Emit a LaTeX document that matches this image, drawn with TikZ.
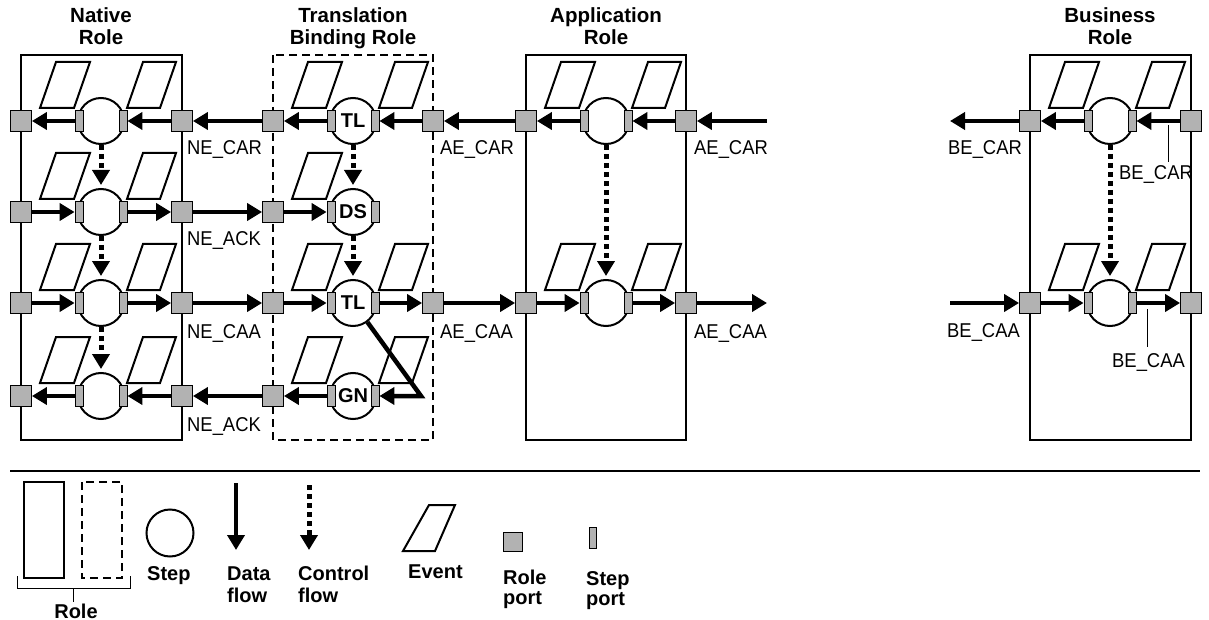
\documentclass[tikz,border=0pt]{standalone}
\usepackage{fontspec}
\setmainfont{Liberation Sans}
\newfontfamily\lblfont[FakeStretch=0.92]{Liberation Sans}
\usetikzlibrary{arrows.meta}
\tikzset{
  rolebox/.style={draw, line width=2.2pt},
  tbrbox/.style={draw, line width=2.2pt, dash pattern=on 8pt off 5pt},
  rport/.style={rectangle, draw, fill=black!30, line width=0.8pt, minimum size=21pt, inner sep=0pt},
  sport/.style={rectangle, draw, fill=black!30, line width=0.8pt, minimum width=8pt, minimum height=21pt, inner sep=0pt},
  stepc/.style={circle, draw, fill=white, line width=2pt, minimum size=46pt, inner sep=0pt, font=\fontsize{20}{22}\selectfont\bfseries},
  evt/.style={draw, fill=white, line width=2pt, line join=miter},
  data/.style={line width=4.5pt, -{Triangle[length=15pt,width=17pt]}},
  ctrl/.style={line width=5pt, dash pattern=on 5pt off 4pt, -{Triangle[length=15pt,width=17pt]}},
  lbl/.style={inner sep=0pt, anchor=base west, font=\lblfont\fontsize{20}{22}\selectfont},
  ttl/.style={inner sep=0pt, anchor=base, font=\fontsize{20.5}{22}\selectfont\bfseries},
  leg/.style={inner sep=0pt, anchor=base west, font=\fontsize{20}{22}\selectfont\bfseries},
  thin/.style={line width=1pt}
}
\newcommand\mystep[4]{%
  \node[stepc] (#1) at (#2,#3) {#4};
  \node[sport] (#1-l) at ({#2-22},#3) {};
  \node[sport] (#1-r) at ({#2+22},#3) {};
}
\newcommand\evl[2]{\draw[evt] ({#1-61},{#2-13}) -- ({#1-27},{#2-13}) -- ({#1-11},{#2-59}) -- ({#1-45},{#2-59}) -- cycle;}
\newcommand\evr[2]{\draw[evt] ({#1+26},{#2-13}) -- ({#1+59},{#2-13}) -- ({#1+75},{#2-59}) -- ({#1+42},{#2-59}) -- cycle;}
\begin{document}
\begin{tikzpicture}[x=1pt, y=-1pt]
\useasboundingbox (0,0) rectangle (1209,620);
% titles
\node[ttl] (tn1) at (101,23) {Native};
\node[ttl] (tn2) at (101,45) {Role};
\node[ttl] (tt1) at (353,23) {Translation};
\node[ttl] (tt2) at (353,45) {Binding Role};
\node[ttl] (ta1) at (606,23) {Application};
\node[ttl] (ta2) at (606,45) {Role};
\node[ttl] (tb1) at (1110,23) {Business};
\node[ttl] (tb2) at (1110,45) {Role};
% role boxes
\draw[rolebox] (21,55) rectangle (182,440);
\draw[tbrbox] (273,55) rectangle (433,440);
\draw[rolebox] (526,55) rectangle (686,440);
\draw[rolebox] (1030,55) rectangle (1191,440);
% events
\evl{101}{121}\evr{101}{121}
\evl{101}{212}\evr{101}{212}
\evl{101}{303}\evr{101}{303}
\evl{101}{396}\evr{101}{396}
\evl{353}{121}\evr{353}{121}
\evl{353}{212}
\evl{353}{303}\evr{353}{303}
\evl{353}{396}\evr{353}{396}
\evl{606}{121}\evr{606}{121}
\evl{606}{303}\evr{606}{303}
\evl{1110}{121}\evr{1110}{121}
\evl{1110}{303}\evr{1110}{303}
% steps
\mystep{N1}{101}{121}{}
\mystep{N2}{101}{212}{}
\mystep{N3}{101}{303}{}
\mystep{N4}{101}{396}{}
\mystep{T1}{353}{121}{TL}
\mystep{T2}{353}{212}{DS}
\mystep{T3}{353}{303}{TL}
\mystep{T4}{353}{396}{GN}
\mystep{A1}{606}{121}{}
\mystep{A3}{606}{303}{}
\mystep{B1}{1110}{121}{}
\mystep{B3}{1110}{303}{}
% role ports
\foreach \r/\y in {1/121,2/212,3/303,4/396}{
  \node[rport] (nL\r) at (21,\y) {};
  \node[rport] (nR\r) at (182,\y) {};
  \node[rport] (tL\r) at (273,\y) {};
}
\node[rport] (tR1) at (433,121) {};
\node[rport] (tR3) at (433,303) {};
\node[rport] (aL1) at (526,121) {};
\node[rport] (aR1) at (686,121) {};
\node[rport] (aL3) at (526,303) {};
\node[rport] (aR3) at (686,303) {};
\node[rport] (bL1) at (1030,121) {};
\node[rport] (bR1) at (1191,121) {};
\node[rport] (bL3) at (1030,303) {};
\node[rport] (bR3) at (1191,303) {};
\coordinate (aF1) at (767,121);
\coordinate (aF3) at (767,303);
\coordinate (bF1) at (950,121);
\coordinate (bF3) at (950,303);
\coordinate (gnc) at (421,396);
% native data flows
\draw[data] (N1-l.west) -- (nL1.east);
\draw[data] (nR1.west) -- (N1-r.east);
\draw[data] (tL1.west) -- (nR1.east);
\draw[data] (nL2.east) -- (N2-l.west);
\draw[data] (N2-r.east) -- (nR2.west);
\draw[data] (nR2.east) -- (tL2.west);
\draw[data] (nL3.east) -- (N3-l.west);
\draw[data] (N3-r.east) -- (nR3.west);
\draw[data] (nR3.east) -- (tL3.west);
\draw[data] (N4-l.west) -- (nL4.east);
\draw[data] (nR4.west) -- (N4-r.east);
\draw[data] (tL4.west) -- (nR4.east);
% translation binding data flows
\draw[data] (T1-l.west) -- (tL1.east);
\draw[data] (tR1.west) -- (T1-r.east);
\draw[data] (aL1.west) -- (tR1.east);
\draw[data] (tL2.east) -- (T2-l.west);
\draw[data] (tL3.east) -- (T3-l.west);
\draw[data] (T3-r.east) -- (tR3.west);
\draw[data] (tR3.east) -- (aL3.west);
\draw[data] (T4-l.west) -- (tL4.east);
\draw[data, line join=miter] (T3.-53) -- (gnc) -- (T4-r.east);
% application data flows
\draw[data] (aF1) -- (aR1.east);
\draw[data] (aR1.west) -- (A1-r.east);
\draw[data] (A1-l.west) -- (aL1.east);
\draw[data] (aL3.east) -- (A3-l.west);
\draw[data] (A3-r.east) -- (aR3.west);
\draw[data] (aR3.east) -- (aF3);
% business data flows
\draw[data] (bR1.west) -- (B1-r.east);
\draw[data] (B1-l.west) -- (bL1.east);
\draw[data] (bL1.west) -- (bF1);
\draw[data] (bF3) -- (bL3.west);
\draw[data] (bL3.east) -- (B3-l.west);
\draw[data] (B3-r.east) -- (bR3.west);
% control flows
\draw[ctrl, shorten >=3pt] (N1.south) -- (N2.north);
\draw[ctrl, shorten >=3pt] (N2.south) -- (N3.north);
\draw[ctrl, shorten >=3pt] (N3.south) -- (N4.north);
\draw[ctrl, shorten >=3pt] (T1.south) -- (T2.north);
\draw[ctrl, shorten >=3pt] (T2.south) -- (T3.north);
\draw[ctrl, shorten >=3pt] (A1.south) -- (A3.north);
\draw[ctrl, shorten >=3pt] (B1.south) -- (B3.north);
% labels
\node[lbl] (l1) at (187,155) {NE\_CAR};
\node[lbl] (l2) at (187,246) {NE\_ACK};
\node[lbl] (l3) at (187,338) {NE\_CAA};
\node[lbl] (l4) at (187,431) {NE\_ACK};
\node[lbl] (l5) at (440,155) {AE\_CAR};
\node[lbl] (l6) at (440,338) {AE\_CAA};
\node[lbl] (l7) at (694,155) {AE\_CAR};
\node[lbl] (l8) at (694,338) {AE\_CAA};
\node[lbl] (l9) at (948,155) {BE\_CAR};
\node[lbl] (l10) at (1119,180) {BE\_CAR};
\node[lbl] (l11) at (947,337) {BE\_CAA};
\node[lbl] (l12) at (1112,367) {BE\_CAA};
\coordinate (k1a) at (1168,125); \coordinate (k1b) at (1168,162);
\coordinate (k2a) at (1147,309); \coordinate (k2b) at (1147,347);
\draw[thin] (k1a) -- (k1b);
\draw[thin] (k2a) -- (k2b);
% separator
\coordinate (sepL) at (10,471); \coordinate (sepR) at (1200,471);
\draw[line width=1.5pt] (sepL) -- (sepR);
% legend
\draw[rolebox] (24,482) rectangle (64,578);
\draw[tbrbox] (82,482) rectangle (122,578);
\draw[thin] (17,576) -- (17,588) -- (130,588) -- (130,576);
\draw[thin] (73,588) -- (73,602);
\node[leg, anchor=base] (lgrole) at (76,618) {Role};
\node[draw, circle, line width=2pt, minimum size=47pt, inner sep=0pt] (lgstep) at (170,533) {};
\node[leg] (lgsteplbl) at (147,580) {Step};
\coordinate (lgd1) at (236,483); \coordinate (lgd2) at (236,550);
\draw[data] (lgd1) -- (lgd2);
\node[leg] (lgdata1) at (227,580) {Data};
\node[leg] (lgdata2) at (227,602) {flow};
\coordinate (lgc1) at (309,485); \coordinate (lgc2) at (309,550);
\draw[ctrl] (lgc1) -- (lgc2);
\node[leg] (lgctl1) at (298,580) {Control};
\node[leg] (lgctl2) at (298,602) {flow};
\draw[evt] (403,551) -- (435,551) -- (455,505) -- (429,505) -- cycle;
\node[leg] (lgev) at (408,578) {Event};
\node[rport, minimum size=19pt] (lgrp) at (513,542) {};
\node[leg] (lgrp1) at (503,584) {Role};
\node[leg] (lgrp2) at (503,604) {port};
\node[sport, minimum width=7pt] (lgsp) at (593,538) {};
\node[leg] (lgsp1) at (586,585) {Step};
\node[leg] (lgsp2) at (586,605) {port};
\end{tikzpicture}
\end{document}
